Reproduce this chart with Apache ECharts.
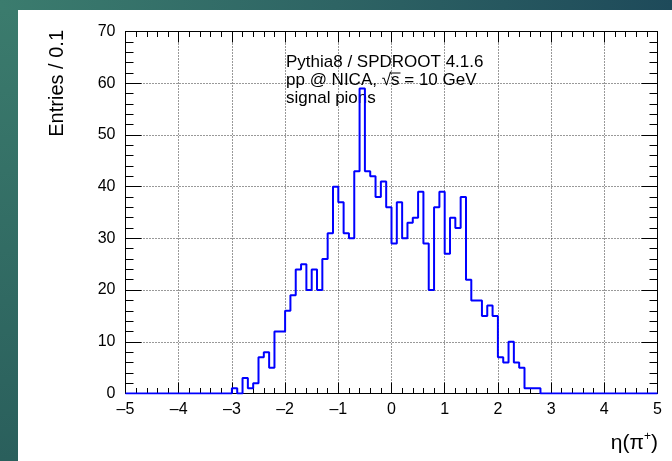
<!DOCTYPE html>
<html>
<head>
<meta charset="utf-8">
<script src="https://cdn.jsdelivr.net/npm/echarts@6/dist/echarts.min.js"></script>
<style>
  html, body { margin: 0; padding: 0; background: #fff; }
  #chart { width: 672px; height: 461px; }
</style>
</head>
<body>
<div id="chart"></div>
<script>
// Histogram binning: 100 bins of width 0.1 on [-5, 5]
const histLow = -5;
const histHigh = 5;
const binWidth = 0.1;

// Entries per bin, ordered from eta = -5.0 upward
const counts = [
  0, 0, 0, 0, 0, 0, 0, 0, 0, 0,        // -5.0 .. -4.1
  0, 0, 0, 0, 0, 0, 0, 0, 0, 0,        // -4.0 .. -3.1
  1, 0, 3, 1, 2, 7, 8, 5, 12, 12,      // -3.0 .. -2.1
  16, 19, 24, 25, 20, 24, 20, 26, 31, 40, // -2.0 .. -1.1
  37, 31, 30, 43, 59, 43, 42, 38, 41, 36, // -1.0 .. -0.1
  29, 37, 30, 33, 34, 39, 29, 20, 36, 39, //  0.0 ..  0.9
  27, 34, 32, 38, 22, 18, 18, 15, 17, 15, //  1.0 ..  1.9
  7, 6, 10, 6, 5, 1, 1, 1, 0, 0,       //  2.0 ..  2.9
  0, 0, 0, 0, 0, 0, 0, 0, 0, 0,        //  3.0 ..  3.9
  0, 0, 0, 0, 0, 0, 0, 0, 0, 0         //  4.0 ..  4.9
];

// Axis ranges and tick spacing
const xRange = [-5, 5];
const xMajorStep = 1;
const yRange = [0, 70];
const yMajorStep = 10;

// Plot texts
const yTitle = 'Entries / 0.1';
const infoLines = ['Pythia8 / SPDROOT 4.1.6', 'pp @ NICA, \u221As = 10 GeV', 'signal pions'];

const FONT = "'Liberation Sans', Arial, Helvetica, sans-serif";

// Bin left edges with their contents, closed with the upper edge
const stepPoints = counts.map((c, i) => [+(histLow + i * binWidth).toFixed(1), c]);
stepPoints.push([histHigh, counts[counts.length - 1]]);

const chart = echarts.init(document.getElementById('chart'), null, { renderer: 'canvas' });

const minusFmt = v => String(v).replace('-', '\u2013');

function xAxisDef(pos, withLabels) {
  return {
    type: 'value', position: pos, min: xRange[0], max: xRange[1], interval: xMajorStep,
    axisLine: { show: true, onZero: false, lineStyle: { color: '#000', width: 1 } },
    axisTick: { show: true, inside: true, length: 11, lineStyle: { color: '#000', width: 1 } },
    minorTick: { show: true, splitNumber: 5, length: 5.5, lineStyle: { color: '#000', width: 1 } },
    axisLabel: { show: withLabels, fontSize: 16, color: '#000', fontFamily: FONT, margin: 8, formatter: minusFmt },
    splitLine: { show: withLabels, lineStyle: { color: '#333', width: 1, type: [1, 2] } },
    minorSplitLine: { show: false }
  };
}
function yAxisDef(pos, withLabels) {
  return {
    type: 'value', position: pos, min: yRange[0], max: yRange[1], interval: yMajorStep,
    axisLine: { show: true, onZero: false, lineStyle: { color: '#000', width: 1 } },
    axisTick: { show: true, inside: true, length: 16, lineStyle: { color: '#000', width: 1 } },
    minorTick: { show: true, splitNumber: 5, length: 8, lineStyle: { color: '#000', width: 1 } },
    axisLabel: { show: withLabels, fontSize: 16, color: '#000', fontFamily: FONT, margin: 10 },
    splitLine: { show: withLabels, lineStyle: { color: '#333', width: 1, type: [1, 2] } },
    minorSplitLine: { show: false }
  };
}

// Locate the radicand "s" so the overbar of the square root sits above it
const measureCtx = document.createElement('canvas').getContext('2d');
measureCtx.font = '17px ' + FONT;
const line2 = infoLines[1];
const rootIdx = line2.indexOf('\u221A');
const sStart = measureCtx.measureText(line2.slice(0, rootIdx + 1)).width;
const sWidth = measureCtx.measureText('s').width;

const infoX = 286;
const infoY0 = 62;
const infoDy = 18;

const graphics = [
  { type: 'rect', z: -20, shape: { x: 0, y: 0, width: 672, height: 461 },
    style: { fill: new echarts.graphic.LinearGradient(0, 0, 1, 0, [
      { offset: 0, color: '#3b7c6e' }, { offset: 0.5, color: '#2e6464' }, { offset: 1, color: '#1e4a5a' }]) } },
  { type: 'rect', z: -19, shape: { x: 0, y: 10, width: 18, height: 451 },
    style: { fill: new echarts.graphic.LinearGradient(0, 0, 0, 1, [
      { offset: 0, color: '#3b7b6d' }, { offset: 1, color: '#2a5f5c' }]) } },
  { type: 'rect', z: -18, shape: { x: 18, y: 10, width: 654, height: 451 }, style: { fill: '#ffffff' } },
  { type: 'text', z: 10, x: 57, y: 30, rotation: Math.PI / 2,
    style: { text: yTitle, font: '20px ' + FONT, fill: '#000', textAlign: 'right', textVerticalAlign: 'middle' } },
  { type: 'text', z: 10, x: 658, y: 443,
    style: { text: '{a|\u03B7(\u03C0}{s|+}{a|)}', textAlign: 'right', textVerticalAlign: 'middle',
      rich: { a: { fontSize: 21, fontFamily: FONT, fill: '#000', lineHeight: 25 },
              s: { fontSize: 12, fontFamily: FONT, fill: '#000', verticalAlign: 'top', lineHeight: 13 } } } }
];
infoLines.forEach((t, i) => {
  graphics.push({ type: 'text', z: 1, x: infoX, y: infoY0 + i * infoDy,
    style: { text: t, font: '17px ' + FONT, fill: '#000', textAlign: 'left', textVerticalAlign: 'middle' } });
});
graphics.push({ type: 'line', z: 1,
  shape: { x1: infoX + sStart - 1, y1: infoY0 + infoDy - 7, x2: infoX + sStart + sWidth + 1, y2: infoY0 + infoDy - 7 },
  style: { stroke: '#000', lineWidth: 1 } });

chart.setOption({
  animation: false,
  backgroundColor: 'transparent',
  grid: { left: 125.5, right: 14.5, top: 31.5, bottom: 67.5, containLabel: false },
  xAxis: [xAxisDef('bottom', true), xAxisDef('top', false)],
  yAxis: [yAxisDef('left', true), yAxisDef('right', false)],
  graphic: graphics,
  series: [{
    type: 'line',
    xAxisIndex: 0, yAxisIndex: 0,
    step: 'end',
    data: stepPoints,
    symbol: 'none',
    z: 5,
    lineStyle: { color: '#0000ff', width: 2 }
  }]
});
</script>
</body>
</html>
